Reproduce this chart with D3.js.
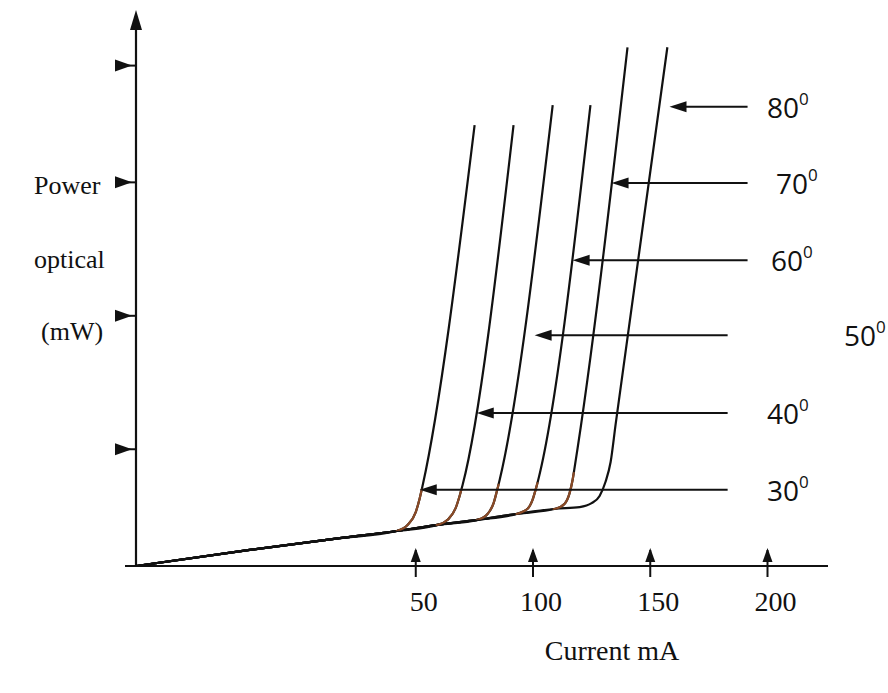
<!DOCTYPE html>
<html>
<head>
<meta charset="utf-8">
<script src="https://cdn.jsdelivr.net/npm/d3@7"></script>
<style>
  html, body { margin: 0; padding: 0; background: #fff; }
  svg { display: block; }
</style>
</head>
<body>
<svg id="chart"></svg>
<script>
const width = 888;
const height = 693;

// --- Data ---
const currentTicks = [50, 100, 150, 200];
const powerTicks = [2.1, 4.5, 6.9, 9.0];   // unlabelled marks on the power axis

// shared low-current (spontaneous emission) part, [mA, mW]
const baseline = [[-69.3, 0], [-20.8, 0.29], [17.6, 0.50], [41.9, 0.63], [59.4, 0.74],
                  [76.4, 0.83], [93.4, 0.94], [109.6, 1.03], [119.9, 1.06]];

// lasing part of each curve, [mA, mW]
const rise30 = [[46.6, 0.74], [50.0, 0.97], [51.7, 1.22], [53.0, 1.46], [75.1, 7.93]];
const rise40 = [[63.6, 0.83], [67.0, 1.04], [68.7, 1.26], [70.0, 1.46], [91.7, 7.93]];
const rise50 = [[80.7, 0.94], [83.2, 1.13], [84.5, 1.33], [85.8, 1.55], [108.4, 8.29]];
const rise60 = [[97.7, 1.03], [99.8, 1.19], [101.1, 1.37], [102.4, 1.58], [124.5, 8.29]];
const rise70 = [[113.5, 1.12], [115.6, 1.31], [116.9, 1.55], [117.7, 1.76], [140.3, 9.33]];
const rise80 = [[125.0, 1.13], [128.4, 1.26], [130.9, 1.51], [133.1, 1.87], [135.2, 2.54], [157.3, 9.33]];

const temps = ["30", "40", "50", "60", "70", "80"];
const rises = [rise30, rise40, rise50, rise60, rise70, rise80];

// label arrows: level (mW), tip and tail (mA)
const arrowPower = [1.37, 2.75, 4.15, 5.50, 6.89, 8.26];
const arrowTip = [51.7, 76.0, 100.7, 116.9, 133.5, 158.2];
const arrowTail = [183.0, 183.0, 183.0, 191.5, 191.5, 191.5];

// --- Layout ---
const labelX = [767, 767, 844, 771, 776, 767];

const svg = d3.select("#chart")
  .attr("width", width)
  .attr("height", height)
  .attr("viewBox", [0, 0, width, height]);

const x = d3.scaleLinear().domain([-69.3, 225.8]).range([136, 828]);
const y = d3.scaleLinear().domain([0, 10]).range([566, 10]);

const ink = "#111";
const knee = "#8a4a26";
const serif = "'Liberation Serif', 'Times New Roman', serif";
const sans = "'Open Sans', 'DejaVu Sans', sans-serif";

// --- Axes ---
svg.append("line")
  .attr("x1", x.range()[0] - 11).attr("x2", x.range()[1])
  .attr("y1", y(0)).attr("y2", y(0))
  .attr("stroke", ink).attr("stroke-width", 2.2);

svg.append("line")
  .attr("x1", x.range()[0]).attr("x2", x.range()[0])
  .attr("y1", y(0)).attr("y2", y.range()[1] + 14)
  .attr("stroke", ink).attr("stroke-width", 2.2);

// top arrowhead
svg.append("path")
  .attr("d", `M${x.range()[0]},${y.range()[1]} l-6,20 l12,0 z`)
  .attr("fill", ink);

// power-axis marks (right-pointing heads)
const gy = svg.append("g");
gy.selectAll("line")
  .data(powerTicks)
  .join("line")
  .attr("x1", 115).attr("x2", x.range()[0])
  .attr("y1", d => y(d)).attr("y2", d => y(d))
  .attr("stroke", ink).attr("stroke-width", 2);
gy.selectAll("path")
  .data(powerTicks)
  .join("path")
  .attr("d", d => `M115,${y(d) - 6} L132,${y(d)} L115,${y(d) + 6} Z`)
  .attr("fill", ink);

// current-axis marks (upward heads)
const gx = svg.append("g");
gx.selectAll("line")
  .data(currentTicks)
  .join("line")
  .attr("x1", d => x(d)).attr("x2", d => x(d))
  .attr("y1", y(0) - 16).attr("y2", y(0) + 11)
  .attr("stroke", ink).attr("stroke-width", 2);
gx.selectAll("path")
  .data(currentTicks)
  .join("path")
  .attr("d", d => `M${x(d)},${y(0) - 18} L${x(d) + 5},${y(0) - 4} L${x(d) - 5},${y(0) - 4} Z`)
  .attr("fill", ink);
gx.selectAll("text")
  .data(currentTicks)
  .join("text")
  .attr("x", d => x(d) + 8)
  .attr("y", 611)
  .attr("text-anchor", "middle")
  .attr("font-family", serif)
  .attr("font-size", 28)
  .attr("fill", ink)
  .text(d => d);

// axis titles
svg.append("text")
  .attr("x", 612).attr("y", 660)
  .attr("text-anchor", "middle")
  .attr("font-family", serif).attr("font-size", 28)
  .attr("fill", ink)
  .text("Current mA");

[["Power", 34, 194], ["optical", 34, 268], ["(mW)", 41, 340]].forEach(([t, tx, ty]) => {
  svg.append("text")
    .attr("x", tx).attr("y", ty)
    .attr("font-family", serif).attr("font-size", 26)
    .attr("fill", ink)
    .text(t);
});

// --- Curves ---
const line = d3.line()
  .x(d => x(d[0]))
  .y(d => y(d[1]))
  .curve(d3.curveMonotoneX);

const curves = rises.map(r => baseline.filter(p => p[0] < r[0][0]).concat(r));

svg.append("g")
  .selectAll("path")
  .data(curves)
  .join("path")
  .attr("d", line)
  .attr("fill", "none")
  .attr("stroke", ink)
  .attr("stroke-width", 2.2);

// brownish tint on the knees (as in the scanned figure), first five curves
const defs = svg.append("defs");
rises.slice(0, 5).forEach((r, i) => {
  defs.append("clipPath")
    .attr("id", `knee${i}`)
    .append("rect")
    .attr("x", x(r[0][0]) - 12)
    .attr("y", y(r[3][1]) + 4)
    .attr("width", x(r[3][0]) - x(r[0][0]) + 14)
    .attr("height", y(r[0][1]) - y(r[3][1]) + 2);
  svg.append("path")
    .datum(curves[i])
    .attr("d", line)
    .attr("fill", "none")
    .attr("stroke", knee)
    .attr("stroke-width", 2.2)
    .attr("clip-path", `url(#knee${i})`);
});

// --- Temperature labels with arrows ---
const gLab = svg.append("g");
temps.forEach((t, i) => {
  const ay = y(arrowPower[i]);
  const tip = x(arrowTip[i]);
  gLab.append("line")
    .attr("x1", tip + 10).attr("x2", x(arrowTail[i]))
    .attr("y1", ay).attr("y2", ay)
    .attr("stroke", ink).attr("stroke-width", 2);
  gLab.append("path")
    .attr("d", `M${tip},${ay} L${tip + 17},${ay - 5.5} L${tip + 17},${ay + 5.5} Z`)
    .attr("fill", ink);
  const lab = gLab.append("text")
    .attr("x", labelX[i]).attr("y", ay + 11)
    .attr("font-family", sans).attr("font-size", 28)
    .attr("fill", ink)
    .text(t);
  lab.append("tspan")
    .attr("dy", -13)
    .attr("font-size", 17)
    .text("0");
});
</script>
</body>
</html>
